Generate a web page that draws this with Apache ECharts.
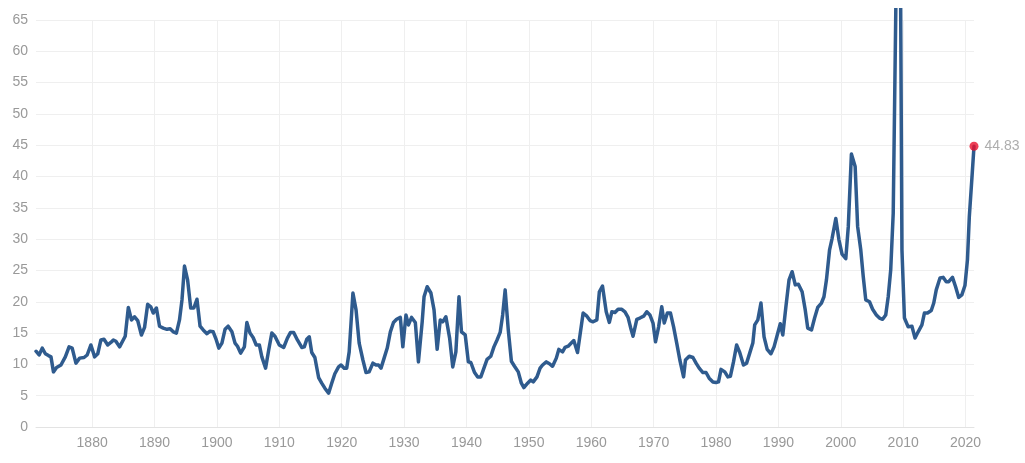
<!DOCTYPE html>
<html>
<head>
<meta charset="utf-8">
<script src="https://cdn.jsdelivr.net/npm/echarts@6/dist/echarts.min.js"></script>
<style>
html,body{margin:0;padding:0;background:#fff;}
#chart{width:1025px;height:463px;}
</style>
</head>
<body>
<div id="chart"></div>
<script>
// S&P 500 P/E ratio readings (year, value)
var yearsA = [1871.0,1871.5,1872.0,1872.5,1873.0,1873.4,1873.8,1874.3,1875.0,1875.7,1876.3,1876.8,1877.4,1878.0,1878.7,1879.2,1879.8,1880.4,1880.9,1881.4,1881.9,1882.5,1883.0,1883.4,1883.8,1884.4,1885.3,1885.8,1886.3,1886.8,1887.3,1887.9,1888.4,1888.9,1889.4,1889.8,1890.3,1890.8,1891.4,1892.0,1892.5,1893.0,1893.5,1894.0,1894.4,1894.8,1895.3,1895.8,1896.3,1896.8,1897.3,1897.8,1898.4,1898.9,1899.4,1899.9,1900.3,1900.8,1901.3,1901.8,1902.4,1902.9,1903.3,1903.8,1904.4,1904.8,1905.3,1905.8,1906.3,1906.8,1907.2,1907.8,1908.3,1908.8,1909.3,1910.0,1910.7,1911.3,1911.8,1912.3,1912.9,1913.6,1914.0,1914.4,1914.8,1915.2,1915.7,1916.3,1916.8,1917.3,1917.9,1918.4,1918.9,1919.5,1919.9];
var peA = [12.1,11.5,12.6,11.7,11.4,11.2,8.8,9.5,9.9,11.2,12.8,12.6,10.2,11.0,11.1,11.5,13.1,11.2,11.7,13.9,14.0,13.1,13.5,13.9,13.7,12.8,14.5,19.1,17.1,17.6,17.0,14.7,15.9,19.6,19.2,18.2,19.0,16.1,15.8,15.6,15.7,15.2,15.0,17.1,20.3,25.7,23.5,19.0,19.0,20.4,16.1,15.5,14.9,15.3,15.2,13.9,12.6,13.4,15.6,16.1,15.2,13.4,12.9,11.8,12.8,16.7,15.0,14.3,13.1,13.1,11.2,9.4,12.3,15.0,14.5,13.1,12.7,14.2,15.1,15.1,13.9,12.7,12.8,14.0,14.4,11.9,11.1,7.9,7.0,6.2,5.4,7.0,8.5,9.6,9.9];

var yearsB = [1920.4,1920.8,1921.2,1921.8,1922.3,1922.8,1923.4,1923.9,1924.4,1925.0,1925.5,1925.9,1926.3,1926.8,1927.3,1927.8,1928.3,1928.8,1929.4,1929.8,1930.3,1930.7,1931.2,1931.8,1932.3,1932.9,1933.2,1933.7,1934.3,1934.8,1935.3,1935.8,1936.2,1936.7,1937.3,1937.8,1938.3,1938.8,1939.2,1939.8,1940.3,1940.7,1941.3,1941.8,1942.3,1942.8,1943.3,1943.9,1944.4,1944.9,1945.4,1945.8,1946.2,1946.7,1947.2,1947.7,1948.3,1948.8,1949.2,1949.8,1950.3,1950.7,1951.3,1951.8,1952.2,1952.8,1953.3,1953.8,1954.4,1954.8,1955.4,1955.8,1956.3,1956.8,1957.2,1957.8,1958.2,1958.7,1959.3,1959.8,1960.3,1960.9,1961.3,1961.8,1962.4,1962.9,1963.3,1963.8,1964.3,1964.9,1965.4,1965.9,1966.3,1966.7,1967.3,1967.8,1968.4,1968.9,1969.4,1969.9];
var peB = [9.4,9.4,12.0,21.4,18.7,13.4,10.7,8.7,8.8,10.2,9.9,9.9,9.4,11.0,12.6,15.2,16.7,17.2,17.5,12.8,17.9,16.3,17.5,16.7,10.4,16.8,20.8,22.4,21.4,18.7,12.4,17.1,16.8,17.6,14.2,9.6,12.0,20.8,15.2,14.7,10.4,10.3,8.7,8.0,8.0,9.4,10.8,11.3,12.8,13.9,15.1,17.9,21.9,15.5,10.5,9.7,8.8,7.0,6.3,7.0,7.5,7.2,8.0,9.4,9.9,10.4,10.1,9.7,11.0,12.4,12.0,12.7,12.9,13.4,13.8,11.9,14.7,18.2,17.7,17.0,16.8,17.1,21.6,22.5,18.4,16.7,18.4,18.3,18.8,18.8,18.4,17.5,15.9,14.5,17.2,17.4,17.7,18.4,17.9,16.6];

var yearsC = [1970.3,1970.8,1971.3,1971.7,1972.2,1972.7,1973.2,1973.7,1974.2,1974.8,1975.1,1975.7,1976.3,1976.8,1977.3,1977.9,1978.4,1978.9,1979.5,1980.0,1980.4,1980.8,1981.4,1981.9,1982.3,1982.8,1983.3,1983.8,1984.4,1984.9,1985.4,1985.9,1986.2,1986.7,1987.2,1987.7,1988.2,1988.8,1989.3,1989.9,1990.3,1990.7,1991.2,1991.7,1992.2,1992.7,1993.2,1993.8,1994.3,1994.7,1995.3,1995.8,1996.3,1996.9,1997.3,1997.7,1998.2,1998.6,1999.2,1999.7,2000.2,2000.8,2001.2,2001.7,2002.3,2002.7,2003.2,2003.6,2004.0,2004.6,2005.1,2005.7,2006.2,2006.7,2007.2,2007.6,2008.0,2008.4,2009.37,2009.8,2010.2,2010.8,2011.4,2011.9,2012.4,2013.0,2013.4,2013.9,2014.5,2014.9,2015.3,2015.9,2016.4,2016.9,2017.3,2017.9,2018.4,2018.9,2019.4,2019.9,2020.3,2020.6,2021.0,2021.35];
var peC = [13.6,16.0,19.2,16.6,18.2,18.2,16.0,13.4,10.7,8.0,10.7,11.3,11.1,10.2,9.4,8.7,8.7,7.8,7.2,7.1,7.2,9.2,8.8,8.0,8.1,10.4,13.1,11.9,9.9,10.2,11.8,13.4,16.3,17.1,19.8,14.4,12.4,11.7,12.8,15.0,16.5,14.7,19.2,23.5,24.8,22.7,22.8,21.6,18.7,15.8,15.5,17.4,19.1,19.8,20.8,23.5,28.3,30.1,33.3,29.9,27.6,26.9,32.0,43.6,41.6,32.0,28.3,24.0,20.3,20.0,18.8,17.9,17.4,17.2,17.9,20.8,25.1,34.1,110,28.3,17.4,16.0,16.1,14.2,15.2,16.3,18.2,18.2,18.6,19.8,21.9,23.8,23.9,23.2,23.2,23.9,22.4,20.7,21.1,22.6,26.7,33.6,39.5,44.83];

var xTicks = [1880,1890,1900,1910,1920,1930,1940,1950,1960,1970,1980,1990,2000,2010,2020];
var lastYear = 2021.35;
var lastValue = 44.83;

var years = yearsA.concat(yearsB, yearsC);
var pe = peA.concat(peB, peC);
var lineData = years.map(function (y, i) { return [y, pe[i]]; });

var chart = echarts.init(document.getElementById('chart'), null, {renderer: 'canvas'});
chart.setOption({
  animation: false,
  backgroundColor: '#ffffff',
  textStyle: {fontFamily: 'Liberation Sans, Arial, Helvetica, sans-serif'},
  grid: {left: 36, right: 51, top: 20, bottom: 36, containLabel: false},
  xAxis: {
    type: 'value',
    min: 1871,
    max: lastYear,
    splitNumber: 15,
    axisLine: {show: true, lineStyle: {color: '#e3e3e3', width: 1}},
    axisTick: {show: false},
    splitLine: {show: false},
    axisLabel: {
      color: '#999999',
      fontSize: 14,
      margin: 9,
      formatter: function (v) { return xTicks.indexOf(v) >= 0 ? String(v) : ''; }
    }
  },
  yAxis: {
    type: 'value',
    min: 0,
    max: 65,
    interval: 5,
    axisLine: {show: false},
    axisTick: {show: false},
    splitLine: {show: true, lineStyle: {color: '#efefef', width: 1}},
    axisLabel: {color: '#999999', fontSize: 14, margin: 8}
  },
  graphic: [{
    type: 'rect',
    z: 100,
    shape: {x: 0, y: 0, width: 1025, height: 8},
    style: {fill: '#ffffff'}
  }],
  series: [
    {
      type: 'line',
      data: [],
      z: 0,
      silent: true,
      markLine: {
        z: 0,
        silent: true,
        symbol: ['none', 'none'],
        label: {show: false},
        emphasis: {disabled: true},
        lineStyle: {color: '#efefef', width: 1, type: 'solid'},
        data: xTicks.map(function (t) { return {xAxis: t}; })
      }
    },
    {
      type: 'line',
      data: lineData,
      z: 10,
      clip: false,
      showSymbol: false,
      symbol: 'none',
      smooth: false,
      lineStyle: {color: '#2f5b8e', width: 3.5, join: 'round', cap: 'round'}
    },
    {
      type: 'scatter',
      z: 12,
      clip: false,
      data: [[lastYear, lastValue]],
      symbolSize: 9,
      itemStyle: {color: '#e8102c'},
      label: {
        show: true,
        position: 'right',
        distance: 6,
        color: '#999999',
        fontSize: 14,
        formatter: function (p) { return String(p.value[1]); }
      }
    }
  ]
});
</script>
</body>
</html>
